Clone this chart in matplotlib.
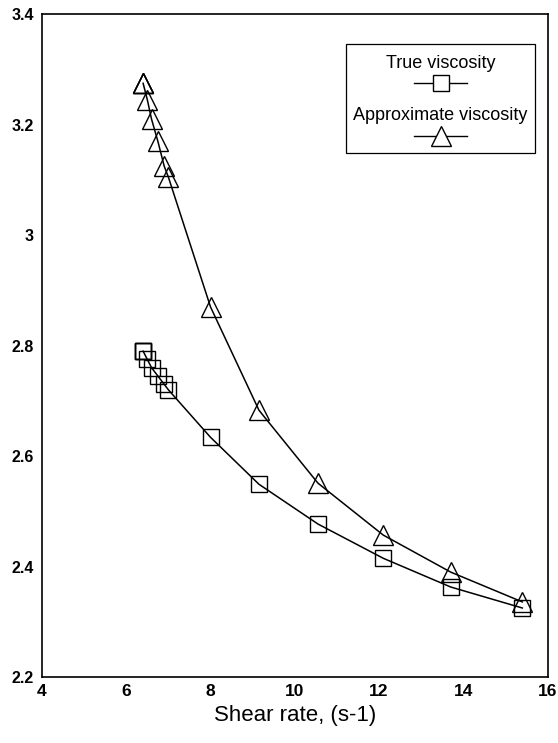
#!/usr/bin/env python3
"""
Shear rate vs viscosity: true and approximate viscosity curves
"""

import matplotlib
matplotlib.use('Agg')
import matplotlib.pyplot as plt
import matplotlib.patches as patches

plt.rcParams['font.family'] = ['Liberation Sans', 'DejaVu Sans']

# Data
shear_rate = [6.4, 6.4, 6.4, 6.5, 6.6, 6.75, 6.9, 7.0, 8.0, 9.15, 10.55, 12.1, 13.7, 15.4]
true_visc = [2.79, 2.79, 2.79, 2.775, 2.76, 2.745, 2.73, 2.72, 2.634, 2.549, 2.477, 2.415, 2.363, 2.325]
approx_visc = [3.275, 3.275, 3.275, 3.245, 3.21, 3.17, 3.125, 3.105, 2.87, 2.683, 2.551, 2.457, 2.39, 2.336]

x_ticks = [4, 6, 8, 10, 12, 14, 16]
y_ticks = [2.2, 2.4, 2.6, 2.8, 3.0, 3.2, 3.4]
y_tick_labels = ['2.2', '2.4', '2.6', '2.8', '3', '3.2', '3.4']

fig = plt.figure(figsize=(5.58, 7.43), dpi=100, facecolor='white')
ax = fig.add_axes([0.0753, 0.0888, 0.906, 0.892])

ax.plot(shear_rate, true_visc, color='black', linewidth=1.1,
        marker='s', markersize=11, markerfacecolor='none',
        markeredgecolor='black', markeredgewidth=1.0)
ax.plot(shear_rate, approx_visc, color='black', linewidth=1.1,
        marker='^', markersize=15, markerfacecolor='none',
        markeredgecolor='black', markeredgewidth=1.0)

ax.set_xlim(4, 16)
ax.set_ylim(2.2, 3.4)
ax.set_xticks(x_ticks)
ax.set_yticks(y_ticks)
ax.set_yticklabels(y_tick_labels)
ax.tick_params(axis='x', length=0, labelsize=12.5, pad=5)
ax.tick_params(axis='y', length=0, labelsize=11.5, pad=6)
for lbl in ax.get_xticklabels() + ax.get_yticklabels():
    lbl.set_fontweight('bold')

for s in ax.spines.values():
    s.set_linewidth(1.2)

ax.set_xlabel('Shear rate, (s-1)', fontsize=16, labelpad=4)

# Legend drawn by hand: label above sample line
lx0, lx1 = 0.602, 0.975
ly0, ly1 = 0.790, 0.955
box = patches.Rectangle((lx0, ly0), lx1 - lx0, ly1 - ly0, transform=ax.transAxes,
                        facecolor='white', edgecolor='black', linewidth=0.9, zorder=5)
ax.add_patch(box)
cx = (lx0 + lx1) / 2
entries = [('True viscosity', 's', 11, 0.925, 0.897),
           ('Approximate viscosity', '^', 15, 0.847, 0.817)]
for label, mk, ms, ty, my in entries:
    ax.text(cx, ty, label, transform=ax.transAxes, ha='center', va='center',
            fontsize=13, zorder=6)
    ax.plot([cx - 0.052, cx + 0.052], [my, my], transform=ax.transAxes,
            color='black', linewidth=1.0, zorder=6)
    ax.plot([cx], [my], transform=ax.transAxes, marker=mk, markersize=ms,
            markerfacecolor='white', markeredgecolor='black',
            markeredgewidth=1.0, zorder=7)

fig.savefig('out.png', dpi=100, facecolor='white')
plt.close(fig)
